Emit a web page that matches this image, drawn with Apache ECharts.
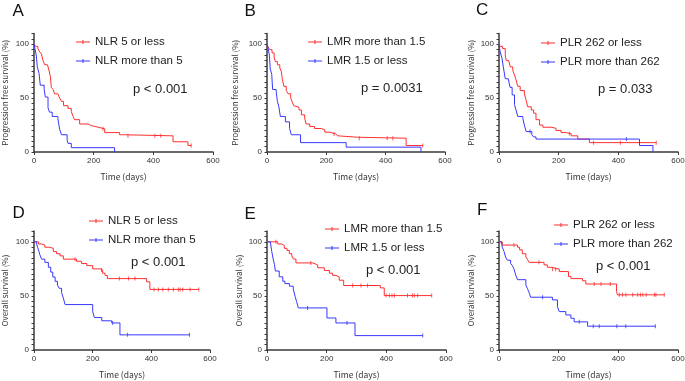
<!DOCTYPE html>
<html>
<head>
<meta charset="utf-8">
<script src="https://cdn.jsdelivr.net/npm/echarts@6.0.0/dist/echarts.min.js"></script>
<style>
  html, body { margin: 0; padding: 0; background: #fff; }
  #chart { width: 685px; height: 381px; }
</style>
</head>
<body>
<div id="chart"></div>
<script>
// Kaplan-Meier steps: [time (days), survival (%)]; censor marks: times only
const pfsNlrLow = [[0,100],[6,98],[13,96],[19,93],[25,91],[30,85],[36,81],[45,80],[50,76],[55,70],[58,60],[64,58],[69,54],[80,53],[86,50],[92,47],[99,43],[114,40.5],[125,37.5],[131,33],[136,30],[153,26],[181,24.5],[192,23],[215,21.5],[237,18],[287,16],[300,15],[466,9.5],[516,6],[527,6]]
const pfsNlrLowCens = [231, 315, 405, 425, 527]
const pfsNlrHigh = [[0,100],[4,95],[8,89],[11,79],[17,73],[21,62],[34,58],[38,51],[47,41],[52,37],[61,33],[80,31],[86,21],[92,16],[111,11],[114,8],[125,4],[270,0]]
const pfsNlrHighCens = []

const pfsLmrHigh = [[0,100],[3,98],[9,95],[17,92],[24,88],[28,84],[35,81],[43,78],[48,75],[52,67],[57,61],[65,57],[71,54],[80,50],[84,47],[90,43],[96,41.5],[108,39],[116,34.5],[127,31.5],[132,26],[144,23.7],[160,21.8],[183,20.5],[195,18.4],[211,16.8],[231,15],[239,13.7],[306,12.8],[469,6],[525,6]]
const pfsLmrHighCens = [226, 311, 405, 424, 525]
const pfsLmrLow = [[0,100],[3,97],[8,90],[11,77],[16,72],[19,58],[31,56],[35,47],[40,42],[45,33],[62,28],[76,22],[82,16],[113,8.7],[267,4.5],[519,0]]
const pfsLmrLowCens = []

const pfsPlrLow = [[0,100],[4,98],[12,96],[21,90],[24,85],[32,84],[38,79],[46,76],[52,71.5],[57,67],[63,61],[71,57],[85,54],[91,48],[96,42],[108,39],[116,36],[124,30],[136,25],[147,23],[175,22],[191,20],[208,18],[225,17],[242,15],[264,12],[303,8.7],[527,8.7]]
const pfsPlrLowCens = [236, 317, 407, 527]
const pfsPlrHigh = [[0,100],[4,93],[10,87],[15,78],[21,68],[31,67],[37,60],[44,53],[52,44],[57,39],[63,33],[80,31],[85,25],[91,19],[110,16],[116,14],[124,12],[471,6],[516,0]]
const pfsPlrHighCens = [104, 427]

const osNlrLow = [[0,100],[15,98],[26,97],[37,95],[52,94],[66,91],[77,89],[89,87],[100,84],[145,82],[162,80],[180,78],[200,75],[225,74],[234,71],[242,69],[250,66],[384,63],[395,56],[562,56]]
const osNlrLowCens = [140, 230, 291, 322, 344, 409, 424, 439, 458, 475, 492, 498, 507, 532, 562]
const osNlrHigh = [[0,100],[9,98],[12,95],[17,91],[20,88],[26,84],[37,81],[49,76.5],[57,72],[64,67.5],[72,63.5],[80,60],[86,57],[94,53],[100,48],[106,42],[200,35.6],[206,30],[231,27],[265,25],[293,14],[530,14]]
const osNlrHighCens = [268, 319, 530]

const osLmrHigh = [[0,100],[36,98],[49,96.6],[58,94],[67,92],[75,89],[83,87],[89,84],[97,80.5],[153,78.7],[170,76],[192,73.5],[209,71],[220,69],[231,67.6],[242,64.5],[257,59.6],[380,57.4],[393,50.3],[552,50.3]]
const osLmrHighCens = [30, 147, 287, 315, 337, 399, 410, 419, 427, 471, 488, 494, 505, 552]
const osLmrLow = [[0,100],[11,99],[16,91],[20,85],[25,79],[28,73],[41,67.6],[53,63.6],[60,61.4],[75,59],[88,56.5],[94,49.7],[99,45],[105,38.9],[201,29.6],[231,25],[295,13.3],[522,13.3]]
const osLmrLowCens = [136, 268, 522]

const osPlrLow = [[0,100],[11,97],[62,95],[69,92.6],[78,89],[90,86],[95,84],[101,81],[151,78.7],[162,76.5],[174,74.7],[202,72.5],[233,68],[241,66],[280,64],[291,61],[394,54],[397,51],[554,51]]
const osPlrLowCens = [50, 134, 179, 190, 319, 342, 373, 403, 414, 425, 448, 465, 474, 482, 493, 521, 526, 554]
const osPlrHigh = [[0,100],[8,99],[11,95],[17,91],[22,86],[28,83],[39,80],[45,78],[50,75],[56,69.4],[62,65],[90,60],[95,57],[101,53],[106,48.8],[179,46.3],[196,40],[202,35.5],[224,32.4],[241,29.3],[252,26],[297,22],[524,22]]
const osPlrHighCens = [146, 269, 316, 336, 395, 425, 524]

const xTicks = [0, 200, 400, 600]
const yLabels = [0, 50, 100]

const red = '#ff2f2f'
const blue = '#3838ff'
const axisColor = '#3a3a3a'

const panels = [
  { letter: 'A', at: [12.5, 11.5], grid: [34, 33.5, 179, 118.5], yName: 'Progression free survival (%)', nameGap: 25,
    curves: [['NLR 5 or less', pfsNlrLow, pfsNlrLowCens, red], ['NLR more than 5', pfsNlrHigh, pfsNlrHighCens, blue]],
    legend: [76, 35.5], p: ['p < 0.001', 133, 89] },
  { letter: 'B', at: [244.5, 11.5], grid: [267, 33.5, 178, 118.5], yName: 'Progression free survival (%)', nameGap: 28,
    curves: [['LMR more than 1.5', pfsLmrHigh, pfsLmrHighCens, red], ['LMR 1.5 or less', pfsLmrLow, pfsLmrLowCens, blue]],
    legend: [308, 35.5], p: ['p = 0.0031', 361, 88] },
  { letter: 'C', at: [476, 10.5], grid: [499, 33.5, 179, 118.5], yName: 'Progression free survival (%)', nameGap: 24,
    curves: [['PLR 262 or less', pfsPlrLow, pfsPlrLowCens, red], ['PLR more than 262', pfsPlrHigh, pfsPlrHighCens, blue]],
    legend: [541, 36.5], p: ['p = 0.033', 598, 89] },
  { letter: 'D', at: [12.5, 213], grid: [34, 231, 176, 119], yName: 'Overall survival (%)', nameGap: 25,
    curves: [['NLR 5 or less', osNlrLow, osNlrLowCens, red], ['NLR more than 5', osNlrHigh, osNlrHighCens, blue]],
    legend: [89, 214.5], p: ['p < 0.001', 131, 262] },
  { letter: 'E', at: [244.5, 214.5], grid: [267, 231, 179, 119], yName: 'Overall survival (%)', nameGap: 24,
    curves: [['LMR more than 1.5', osLmrHigh, osLmrHighCens, red], ['LMR 1.5 or less', osLmrLow, osLmrLowCens, blue]],
    legend: [325, 222.5], p: ['p < 0.001', 366, 270] },
  { letter: 'F', at: [477, 210.5], grid: [499, 231, 179, 119], yName: 'Overall survival (%)', nameGap: 24,
    curves: [['PLR 262 or less', osPlrLow, osPlrLowCens, red], ['PLR more than 262', osPlrHigh, osPlrHighCens, blue]],
    legend: [554, 218.5], p: ['p < 0.001', 596, 266] }
]

// survival value of the step curve at time t
function survAt(curve, t) {
  let s = curve[0][1]
  for (const [x, y] of curve) {
    if (x <= t) s = y
  }
  return s
}

// short line with a small censor tick, bbox kept at 14x4
const legendIcon = 'path://M0,1.5H14V2.5H0ZM6.5,0H7.5V4H6.5Z'

const option = {
  animation: false,
  backgroundColor: '#fff',
  textStyle: { fontFamily: 'Liberation Sans, Arial, sans-serif' },
  grid: [],
  xAxis: [],
  yAxis: [],
  legend: [],
  series: [],
  graphic: []
}

panels.forEach((p, i) => {
  option.grid.push({ left: p.grid[0], top: p.grid[1], width: p.grid[2], height: p.grid[3], outerBoundsMode: 'none' })

  option.xAxis.push({
    gridIndex: i,
    type: 'value',
    min: xTicks[0],
    max: xTicks[xTicks.length - 1],
    interval: xTicks[1] - xTicks[0],
    name: 'Time (days)',
    nameLocation: 'middle',
    nameGap: 21,
    nameTextStyle: { fontSize: 8.5, color: '#333', fontFamily: 'Noto Sans CJK JP' },
    axisLine: { lineStyle: { color: axisColor, width: 1.5 } },
    axisTick: { length: 3, lineStyle: { color: axisColor, width: 1 } },
    axisLabel: { fontSize: 8, color: '#333', margin: 5 },
    splitLine: { show: false }
  })

  option.yAxis.push({
    gridIndex: i,
    type: 'value',
    min: 0,
    max: 110,
    interval: 5,
    name: p.yName,
    nameLocation: 'middle',
    nameGap: p.nameGap,
    nameTextStyle: { fontSize: 8, color: '#333', fontFamily: 'Noto Sans CJK JP' },
    axisLine: { lineStyle: { color: axisColor, width: 1.5 } },
    axisTick: { length: 2.5, lineStyle: { color: axisColor, width: 1 } },
    axisLabel: {
      fontSize: 8, color: '#333', margin: 5,
      formatter: v => (yLabels.includes(v) ? String(v) : '')
    },
    splitLine: { show: false }
  })

  p.curves.forEach(([name, data, cens, color]) => {
    option.series.push({
      type: 'line',
      name: name,
      xAxisIndex: i,
      yAxisIndex: i,
      data: data,
      step: 'end',
      symbol: 'none',
      lineStyle: { color: color, width: 1 },
      itemStyle: { color: color },
      silent: true
    })
    option.series.push({
      type: 'scatter',
      xAxisIndex: i,
      yAxisIndex: i,
      data: cens.map(t => [t, survAt(data, t)]),
      symbol: 'rect',
      symbolSize: [1, 4],
      itemStyle: { color: color },
      silent: true
    })
  })

  option.legend.push({
    orient: 'vertical',
    left: p.legend[0],
    top: p.legend[1],
    padding: 0,
    itemWidth: 14,
    itemHeight: 4,
    itemGap: 6,
    selectedMode: false,
    itemStyle: { borderWidth: 0 },
    textStyle: { fontSize: 11.5, color: '#222', lineHeight: 13, fontFamily: 'Liberation Sans, Arial, sans-serif' },
    data: p.curves.map(c => ({ name: c[0], icon: legendIcon }))
  })

  option.graphic.push({
    type: 'text',
    x: p.at[0],
    y: p.at[1],
    style: { text: p.letter, fontSize: 17, fill: '#111', verticalAlign: 'middle', fontFamily: 'Liberation Sans, Arial, sans-serif' }
  })
  option.graphic.push({
    type: 'text',
    x: p.p[1],
    y: p.p[2],
    style: { text: p.p[0], fontSize: 13, fill: '#222', verticalAlign: 'middle', fontFamily: 'Liberation Sans, Arial, sans-serif' }
  })
})

const chart = echarts.init(document.getElementById('chart'))
chart.setOption(option)
</script>
</body>
</html>
